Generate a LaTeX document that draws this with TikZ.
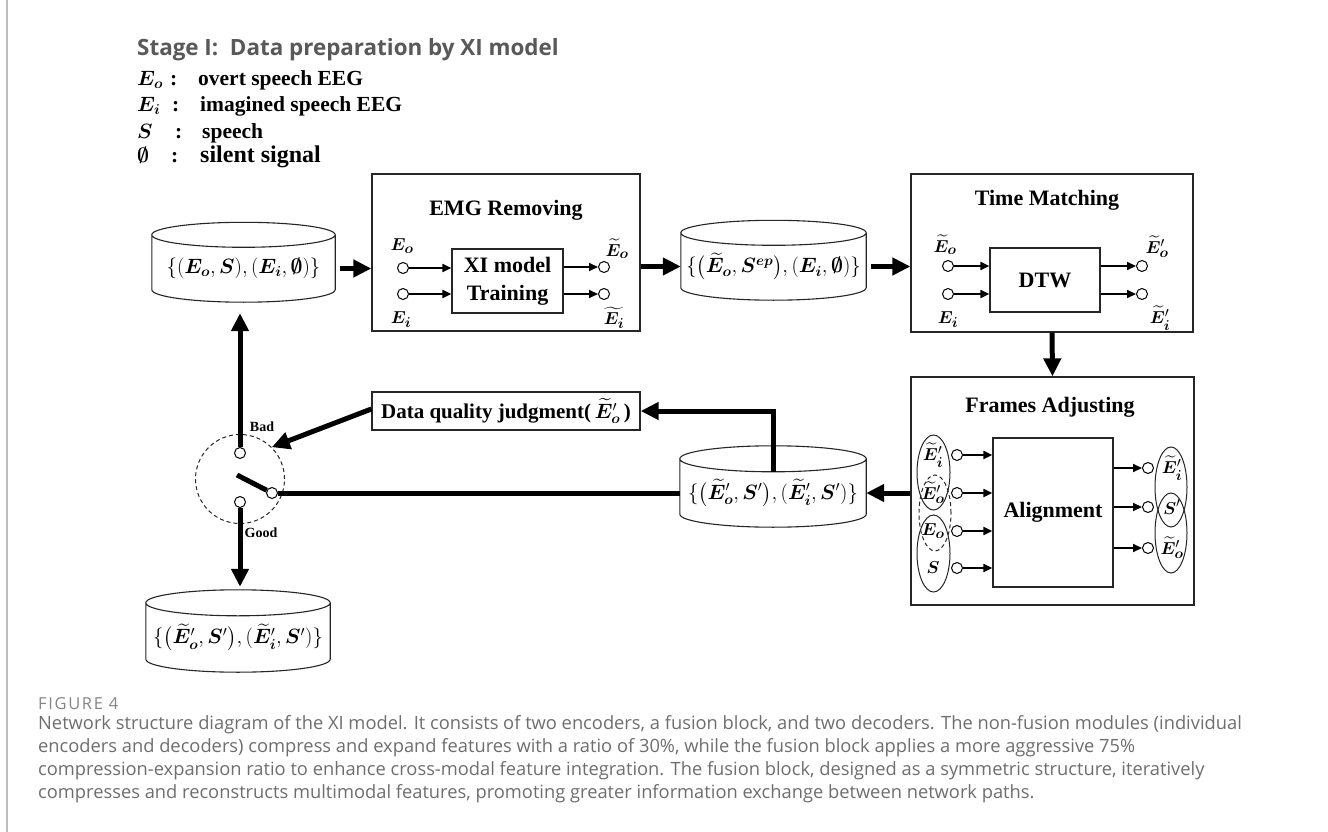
\documentclass[tikz,border=0pt]{standalone}
\usepackage{amsmath,amssymb,bm}
\usepackage{fontspec}
\setmainfont{Liberation Serif}
\newfontfamily\sansfnt{Open Sans}
\newfontfamily\figfnt[LetterSpace=10]{Open Sans}
\usetikzlibrary{arrows.meta,shapes.geometric,calc}
\definecolor{titlegray}{HTML}{595959}
\definecolor{capgray}{HTML}{6E6E6E}
\definecolor{figgray}{HTML}{858585}
\definecolor{framegray}{HTML}{BDBDBD}
\newcommand{\Eo}{\bm{E}_{\bm{o}}}
\newcommand{\Ei}{\bm{E}_{\bm{i}}}
\newcommand{\tEo}{\widetilde{\bm{E}}_{\bm{o}}}
\newcommand{\tEpo}{\widetilde{\bm{E}}'_{\bm{o}}}
\newcommand{\tEpi}{\widetilde{\bm{E}}'_{\bm{i}}}
\newcommand{\Sp}{\bm{S}'}
\newcommand{\drawdb}[2]{%
  \draw[cyl] let \p1=(#1.north west), \p2=(#1.south east) in
    (\x1,\y1) -- (\x1,{\y2+#2pt})
    arc[start angle=180,end angle=360,x radius={(\x2-\x1)/2},y radius=#2pt]
    -- (\x2,\y1)
    ({(\x1+\x2)/2},\y1) ellipse[x radius={(\x2-\x1)/2},y radius=#2pt];}
\tikzset{
  box/.style={draw=black!85, line width=1.3pt, inner sep=0pt},
  ttl/.style={font=\bfseries\fontsize{22}{22}\selectfont, inner sep=0pt},
  lbl/.style={font=\fontsize{19}{19}\selectfont, inner sep=0pt},
  term/.style={circle, draw=black, line width=1pt, fill=white, minimum size=11pt, inner sep=0pt},
  thinarrow/.style={line width=2pt, -{Triangle[length=9pt,width=8pt]}},
  thickarrow/.style={line width=5pt, -{Triangle[length=18pt,width=17pt]}},
  thickline/.style={line width=5pt},
  dbtext/.style={inner sep=0pt, font=\fontsize{20}{20}\selectfont},
  cyl/.style={draw=black!85, line width=1.1pt},
  grp/.style={draw=black!85, ellipse, line width=1pt, inner sep=0pt},
  legend/.style={anchor=west, inner sep=0pt, font=\bfseries\fontsize{21.5}{21.5}\selectfont},
  small/.style={inner sep=0pt, font=\bfseries\fontsize{14}{14}\selectfont},
  capline/.style={anchor=base west, inner sep=0pt, font=\sansfnt\fontsize{18.3}{18.3}\selectfont, text=capgray},
}
\begin{document}
\begin{tikzpicture}[x=1pt,y=-1pt]
\useasboundingbox (0,0) rectangle (1328,832);
\fill[white] (0,0) rectangle (1328,832);
\draw[framegray, line width=1.5pt] (7,0) -- (7,832);

% title and legend
\node[anchor=west, inner sep=0pt, font=\sansfnt\bfseries\fontsize{22.4}{22.4}\selectfont, text=titlegray] (title) at (137,50) {Stage I:\ \ Data preparation by XI model};
\node[legend] (leg1) at (137,80) {\makebox[33pt][l]{$\Eo$}\makebox[28pt][l]{:}overt speech EEG};
\node[legend] (leg2) at (137,106) {\makebox[35pt][l]{$\Ei$}\makebox[28pt][l]{:}imagined speech EEG};
\node[legend] (leg3) at (137,133) {\makebox[38pt][l]{$\bm{S}$}\makebox[27pt][l]{:}speech};
\node[legend] (leg4) at (137,157) {\makebox[34pt][l]{$\bm{\emptyset}$}\makebox[29pt][l]{:}{\fontsize{24}{24}\selectfont silent signal}};

% databases
\node[dbtext, minimum width=183pt, minimum height=67pt] (db1) at (243.5,268.5) {$\{(\Eo,\bm{S}),(\Ei,\bm{\emptyset})\}$};
\drawdb{db1}{12.5}
\node[dbtext, minimum width=185pt, minimum height=67pt] (db2) at (773.5,266.5) {$\{\bigl(\tEo,\bm{S}^{\bm{ep}}\bigr),(\Ei,\bm{\emptyset})\}$};
\drawdb{db2}{12.5}
\node[dbtext, minimum width=186pt, minimum height=68pt] (db3) at (773,493) {$\{\bigl(\tEpo,\Sp\bigr),(\tEpi,\Sp)\}$};
\drawdb{db3}{13}
\node[dbtext, minimum width=184pt, minimum height=69pt] (db4) at (238,637.5) {$\{\bigl(\tEpo,\Sp\bigr),(\tEpi,\Sp)\}$};
\drawdb{db4}{13}

% EMG removing
\node[box, minimum width=268pt, minimum height=157pt] (emg) at (506,252.5) {};
\node[ttl] (emgt) at (506,210) {EMG Removing};
\node[box, minimum width=111pt, minimum height=64pt, align=center, font=\bfseries\fontsize{22}{28}\selectfont] (xi) at (507.5,281) {XI model\\Training};
\node[term] (emgi1) at (403,268) {};
\node[term] (emgi2) at (403,294) {};
\node[term] (emgo1) at (604,267) {};
\node[term] (emgo2) at (604,294) {};
\draw[thinarrow] (emgi1) -- (emgi1 -| xi.west);
\draw[thinarrow] (emgi2) -- (emgi2 -| xi.west);
\draw[thinarrow] (emgo1 -| xi.east) -- (emgo1);
\draw[thinarrow] (emgo2 -| xi.east) -- (emgo2);
\node[lbl] (emgl1) at (402,246) {$\Eo$};
\node[lbl] (emgl2) at (401,320) {$\Ei$};
\node[lbl] (emgl3) at (617,249) {$\tEo$};
\node[lbl] (emgl4) at (614,318) {$\widetilde{\bm{E}_{\bm{i}}}$};

% Time matching
\node[box, minimum width=282pt, minimum height=158pt] (tm) at (1052,253) {};
\node[ttl] (tmt) at (1047,200) {Time Matching};
\node[box, minimum width=110pt, minimum height=64pt, font=\bfseries\fontsize{22}{22}\selectfont] (dtw) at (1045,280) {DTW};
\node[term] (tmi1) at (948,266) {};
\node[term] (tmi2) at (948,294) {};
\node[term] (tmo1) at (1142,266) {};
\node[term] (tmo2) at (1142,294) {};
\draw[thinarrow] (tmi1) -- (tmi1 -| dtw.west);
\draw[thinarrow] (tmi2) -- (tmi2 -| dtw.west);
\draw[thinarrow] (tmo1 -| dtw.east) -- (tmo1);
\draw[thinarrow] (tmo2 -| dtw.east) -- (tmo2);
\node[lbl] (tml1) at (945,245) {$\tEo$};
\node[lbl] (tml2) at (948,320) {$\Ei$};
\node[lbl] (tml3) at (1157,247) {$\tEpo$};
\node[lbl] (tml4) at (1160,318) {$\tEpi$};

% Frames adjusting
\node[box, minimum width=283pt, minimum height=228pt] (fa) at (1052.5,491) {};
\node[ttl] (fat) at (1050,407) {Frames Adjusting};
\node[box, minimum width=120pt, minimum height=149pt, font=\bfseries\fontsize{22}{22}\selectfont] (al) at (1053,512.5) {Alignment};
\node[term] (fai1) at (957,455) {};
\node[term] (fai2) at (957,493) {};
\node[term] (fai3) at (957,531) {};
\node[term] (fai4) at (957,568) {};
\node[term] (fao1) at (1148,468) {};
\node[term] (fao2) at (1148,507) {};
\node[term] (fao3) at (1148,548) {};
\foreach \t in {fai1,fai2,fai3,fai4}{\draw[thinarrow] (\t) -- (\t -| al.west);}
\foreach \t in {fao1,fao2,fao3}{\draw[thinarrow] (\t -| al.east) -- (\t);}
\node[lbl] (fal1) at (933,455) {$\tEpi$};
\node[lbl] (fal2) at (933,493) {$\tEpo$};
\node[lbl] (fal3) at (933,531) {$\Eo$};
\node[lbl] (fal4) at (933,568) {$\bm{S}$};
\node[lbl] (far1) at (1172,468) {$\tEpi$};
\node[lbl] (far2) at (1172,507) {$\Sp$};
\node[lbl] (far3) at (1172,548) {$\tEpo$};
\node[grp, minimum width=33pt, minimum height=75pt] (ga) at (933.5,472.5) {};
\node[grp, minimum width=33pt, minimum height=77pt] (gb) at (933.5,553.5) {};
\node[grp, dashed, dash pattern=on 4pt off 3pt, minimum width=32pt, minimum height=76pt] (gc) at (935,513) {};
\node[grp, minimum width=32pt, minimum height=80pt] (gd) at (1171,487) {};
\node[grp, minimum width=32pt, minimum height=80pt] (ge) at (1171,533) {};

% data quality and switch
\node[box, minimum width=268pt, minimum height=38pt, font=\bfseries\fontsize{21}{21}\selectfont] (dq) at (506,411) {Data quality judgment(\,$\tEpo$\,)};
\node[draw=black!85, circle, dashed, dash pattern=on 4pt off 3pt, line width=1pt, minimum size=89pt, inner sep=0pt] (sw) at (240,479) {};
\node[term] (swb) at (240,453) {};
\node[term] (swg) at (240,502) {};
\node[term] (swl) at (272,493) {};
\coordinate (pivot) at (237,475);
\node[small] (badl) at (262,427) {Bad};
\node[small] (goodl) at (261,533) {Good};

% connectors
\draw[thickarrow] ([xshift=5pt]db1.east) -- (db1.east -| emg.west);
\draw[thickarrow] (emg.east |- db2.west) -- (db2.west);
\draw[thickarrow] ([xshift=5pt]db2.east) -- (db2.east -| tm.west);
\draw[thickarrow] (tm.south) -- (fa.north);
\draw[thickarrow] (fa.west |- db3.east) -- (db3.east);
\draw[thickarrow] ([yshift=-13pt]db3.north) |- (dq.east);
\draw[thickarrow] ([yshift=2pt]dq.west) -- (sw.north east);
\coordinate (db1tip) at ([yshift=-11pt]db1.south);
\draw[thickarrow] (swb) -- (swb |- db1tip);
\coordinate (db4tip) at ([yshift=16pt]db4.north);
\draw[thickarrow] (swg) -- (swg |- db4tip);
\draw[thickline] (pivot) -- (swl);
\draw[thickline] (swl) -- (swl -| db3.west);

% caption
\node[anchor=base west, inner sep=0pt, font=\figfnt\fontsize{16.5}{16.5}\selectfont, text=figgray] (fig) at (38,709) {FIGURE 4};
\node[capline] (cap1) at (38,729) {Network structure diagram of the XI model. It consists of two encoders, a fusion block, and two decoders. The non-fusion modules (individual};
\node[capline] (cap2) at (38,752) {encoders and decoders) compress and expand features with a ratio of 30\%, while the fusion block applies a more aggressive 75\%};
\node[capline] (cap3) at (38,775) {compression-expansion ratio to enhance cross-modal feature integration. The fusion block, designed as a symmetric structure, iteratively};
\node[capline] (cap4) at (38,798) {compresses and reconstructs multimodal features, promoting greater information exchange between network paths.};
\end{tikzpicture}
\end{document}
